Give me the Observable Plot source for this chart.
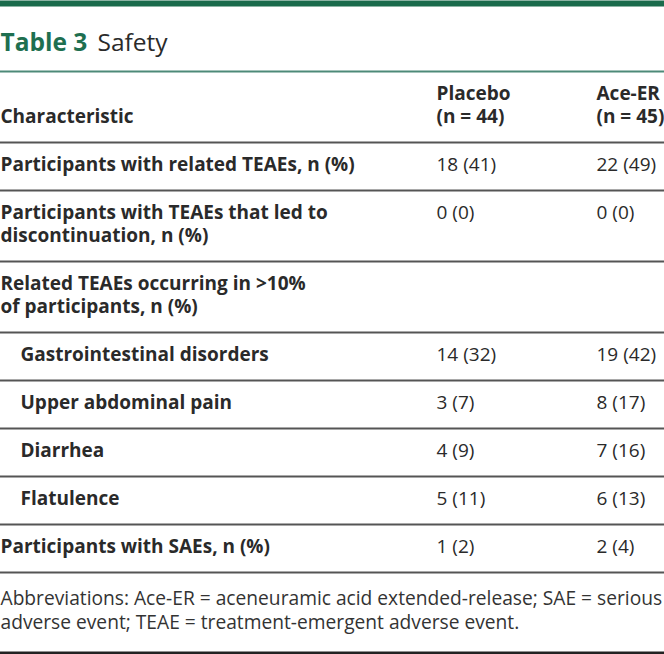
<!DOCTYPE html>
<html>
<head>
<meta charset="utf-8">
<script src="https://cdn.jsdelivr.net/npm/d3@7"></script>
<script src="https://cdn.jsdelivr.net/npm/@observablehq/plot@0.6"></script>
<style>
  html, body { margin: 0; padding: 0; background: #fff; }
  svg { display: block; }
</style>
</head>
<body>
<div id="chart"></div>
<script>
// ---- data ----
const tableNumber = "Table 3";
const tableTitle = "Safety";
const columnHeaders = ["Characteristic", "Placebo\n(n = 44)", "Ace-ER\n(n = 45)"];
const characteristics = [
  "Participants with related TEAEs, n (%)",
  "Participants with TEAEs that led to\ndiscontinuation, n (%)",
  "Related TEAEs occurring in >10%\nof participants, n (%)",
  "Gastrointestinal disorders",
  "Upper abdominal pain",
  "Diarrhea",
  "Flatulence",
  "Participants with SAEs, n (%)"
];
const subItem = [false, false, false, true, true, true, true, false];
const placeboN   = [18, 0, null, 14, 3, 4, 5, 1];
const placeboPct = [41, 0, null, 32, 7, 9, 11, 2];
const aceN       = [22, 0, null, 19, 8, 7, 6, 2];
const acePct     = [49, 0, null, 42, 17, 16, 13, 4];
const footnote = "Abbreviations: Ace-ER = aceneuramic acid extended-release; SAE = serious\nadverse event; TEAE = treatment-emergent adverse event.";

// ---- layout ----
const W = 664, H = 654;
const colX = [0, 436, 596];
const indent = 20;
const lineH = 23;
const firstBase = 28;
const rowBase = 48;
const headerTop = 71;
const FS = 19;
const FFS = 19.2;

const fmt = (n, p) => n == null ? "" : `${n} (${p})`;
const nLines = s => s.split("\n").length;

const headerLineCount = d3.max(columnHeaders, nLines);
let y = headerTop;
const boldTexts = [], plainTexts = [];
columnHeaders.forEach((t, c) => {
  boldTexts.push({x: colX[c], y: y + firstBase + lineH * (headerLineCount - 1), text: t});
});
y += rowBase + lineH * (headerLineCount - 1);
const rules = [y];
characteristics.forEach((label, r) => {
  const n = nLines(label);
  boldTexts.push({x: colX[0] + (subItem[r] ? indent : 0), y: y + firstBase + lineH * (n - 1), text: label});
  const v1 = fmt(placeboN[r], placeboPct[r]);
  const v2 = fmt(aceN[r], acePct[r]);
  if (v1) plainTexts.push({x: colX[1], y: y + firstBase, text: v1});
  if (v2) plainTexts.push({x: colX[2], y: y + firstBase, text: v2});
  y += rowBase + lineH * (n - 1);
  rules.push(y);
});
const footTexts = [{x: 0, y: y + 32 + 24 * (nLines(footnote) - 1), text: footnote}];

const chart = Plot.plot({
  width: W,
  height: H,
  margin: 0,
  x: {type: "linear", domain: [0, W], range: [0, W], axis: null},
  y: {type: "linear", domain: [0, H], range: [0, H], axis: null},
  style: {fontFamily: "'Open Sans', sans-serif", background: "#fff"},
  marks: [
    Plot.ruleY([3], {x1: 0, x2: W, stroke: "#1a6b4c", strokeWidth: 6}),
    Plot.text([tableNumber], {x: 0, y: 50, text: d => d, textAnchor: "start", lineAnchor: "bottom", fontSize: 24.5, fontWeight: "bold", fill: "#1e6f50"}),
    Plot.text([tableTitle], {x: 97, y: 50, text: d => d, textAnchor: "start", lineAnchor: "bottom", fontSize: 24.5, fill: "#2a2a2a"}),
    Plot.ruleY([headerTop], {x1: 0, x2: W, stroke: "#4d8a78", strokeWidth: 2}),
    Plot.ruleY(rules, {x1: 0, x2: W, stroke: "#555", strokeWidth: 2}),
    Plot.ruleY([H - 1.5], {x1: 0, x2: W, stroke: "#222", strokeWidth: 3}),
    Plot.text(boldTexts, {x: "x", y: "y", text: "text", textAnchor: "start", lineAnchor: "bottom", lineHeight: lineH / FS, fontSize: FS, fontWeight: "bold", fill: "#2a2a2a"}),
    Plot.text(plainTexts, {x: "x", y: "y", text: "text", textAnchor: "start", lineAnchor: "bottom", fontSize: FS, fill: "#2a2a2a"}),
    Plot.text(footTexts, {x: "x", y: "y", text: "text", textAnchor: "start", lineAnchor: "bottom", lineHeight: 24 / FFS, fontSize: FFS, fill: "#333"})
  ]
});
document.getElementById("chart").appendChild(chart);
</script>
</body>
</html>
